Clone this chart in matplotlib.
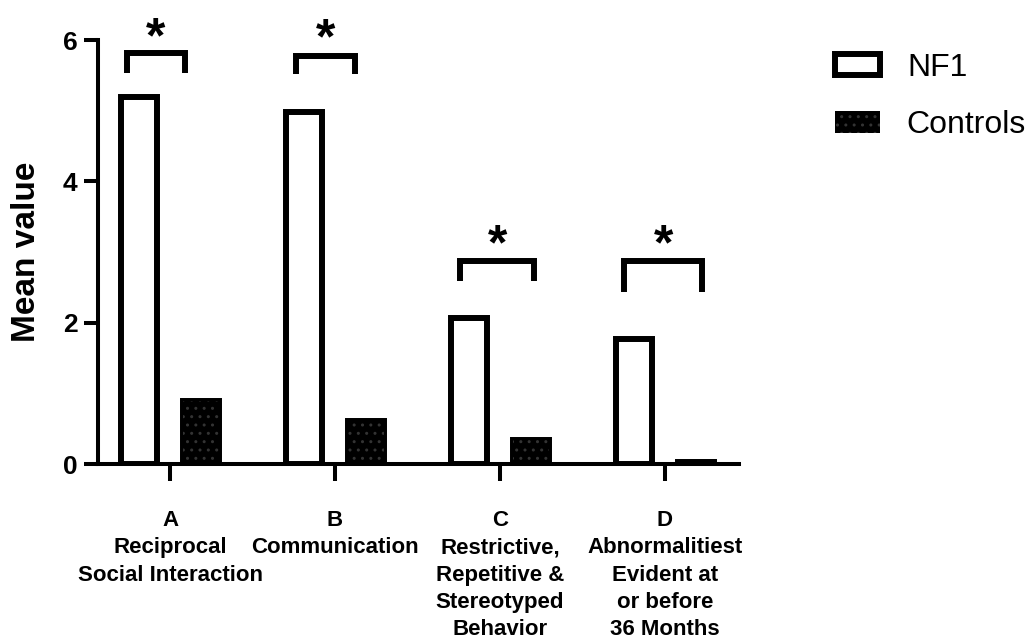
import numpy as np
import matplotlib
matplotlib.use("Agg")
import matplotlib.pyplot as plt
from matplotlib.patches import Patch

plt.rcParams["font.family"] = ["Liberation Sans", "DejaVu Sans"]
plt.rcParams["hatch.linewidth"] = 1.0

categories = [
    "A\nReciprocal\nSocial Interaction",
    "B\nCommunication",
    "C\nRestrictive,\nRepetitive &\nStereotyped\nBehavior",
    "D\nAbnormalitiest\nEvident at\nor before\n36 Months",
]
nf1 = [5.19, 4.98, 2.07, 1.77]
controls = [0.89, 0.61, 0.34, 0.03]

# significance brackets (y in data units, x relative to group centre)
bracket_top = [5.81, 5.77, 2.87, 2.87]
bracket_leg = [5.54, 5.52, 2.59, 2.43]
bracket_left = [-0.258, -0.239, -0.239, -0.245]
bracket_right = [0.088, 0.124, 0.209, 0.227]
star_y = [6.22, 6.20, 3.28, 3.28]

fig = plt.figure(figsize=(10.32, 6.4), dpi=100)
ax = fig.add_axes([98.3 / 1032, 1 - 464 / 640, (739 - 98.3) / 1032, (464 - 40) / 640])

x = np.arange(len(categories))
w = 0.215
off = 0.188
lw = 4.3

ax.bar(x - off, nf1, w, facecolor="white", edgecolor="black", linewidth=lw, zorder=3)
ax.bar(x + off, controls, w, facecolor="black", edgecolor="black", linewidth=lw, zorder=3)
ax.bar(x + off, controls, w, fill=False, hatch="..", edgecolor="#333333", linewidth=0, zorder=4)

for i in range(len(categories)):
    xl = x[i] + bracket_left[i]
    xr = x[i] + bracket_right[i]
    ax.plot([xl, xl, xr, xr], [bracket_leg[i], bracket_top[i], bracket_top[i], bracket_leg[i]],
            color="black", lw=lw, solid_capstyle="butt", solid_joinstyle="miter",
            clip_on=False, zorder=5)
    fs = 36
    ax.annotate("*", xy=((xl + xr) / 2, star_y[i]), xytext=(0, -0.55 * fs),
                textcoords="offset points", ha="center", va="baseline",
                fontsize=fs, fontweight="bold", annotation_clip=False)

ax.set_xlim(-0.435, 3.45)
ax.set_ylim(0, 6)
ax.set_yticks([0, 2, 4, 6])
ax.set_xticks(x)
ax.set_xticklabels(categories, fontsize=16, fontweight="bold", linespacing=1.4)

for s in ["top", "right"]:
    ax.spines[s].set_visible(False)
for s in ["left", "bottom"]:
    ax.spines[s].set_linewidth(2.9)

ax.tick_params(axis="y", length=10, width=2.9, pad=5, labelsize=19)
ax.tick_params(axis="x", length=12, width=2.9, pad=21)
for t in ax.get_yticklabels():
    t.set_fontweight("bold")

fig.text(27 / 1032, 1 - 252 / 640, "Mean value", rotation=90, ha="center", va="center",
         fontsize=24, fontweight="bold")

handles = [
    Patch(facecolor="white", edgecolor="black", linewidth=lw),
    Patch(facecolor="black", edgecolor="#333333", hatch="..", linewidth=0),
]
fig.legend(handles, ["NF1", "Controls"], loc="upper left",
           bbox_to_anchor=(835 / 1032, 1 - 53 / 640), frameon=False,
           fontsize=23, borderpad=0, borderaxespad=0, handlelength=1.4,
           handleheight=0.65, handletextpad=0.85, labelspacing=0.85)

fig.savefig("out.png", dpi=100)
